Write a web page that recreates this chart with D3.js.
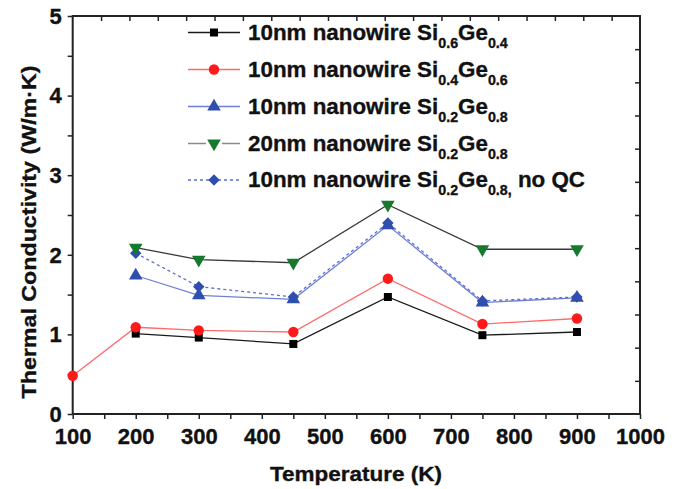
<!DOCTYPE html>
<html>
<head>
<meta charset="utf-8">
<script src="https://cdn.jsdelivr.net/npm/d3@7"></script>
<style>
  html, body { margin: 0; padding: 0; background: #fff; }
  svg { display: block; }
  text { font-family: "Liberation Sans", Arial, sans-serif; font-weight: bold; fill: #111; stroke: #111; stroke-width: 0.35px; }
</style>
</head>
<body>
<svg id="chart" width="681" height="489"></svg>
<script>
// ---- data ----
const temps6 = [200, 300, 450, 600, 750, 900];
const temps7 = [100, 200, 300, 450, 600, 750, 900];
const si06ge04_10nm = [1.01, 0.96, 0.88, 1.47, 0.99, 1.03];
const si04ge06_10nm = [0.48, 1.09, 1.05, 1.03, 1.70, 1.13, 1.20];
const si02ge08_10nm = [1.74, 1.49, 1.44, 2.37, 1.40, 1.46];
const si02ge08_20nm = [2.09, 1.94, 1.90, 2.63, 2.07, 2.07];
const si02ge08_10nm_noQC = [2.02, 1.60, 1.47, 2.40, 1.42, 1.47];
const xTickValues = [100, 200, 300, 400, 500, 600, 700, 800, 900, 1000];
const yTickValues = [0, 1, 2, 3, 4, 5];
const legendLabels = [
  { pre: "10nm nanowire Si", a: "0.6", b: "0.4", post: "" },
  { pre: "10nm nanowire Si", a: "0.4", b: "0.6", post: "" },
  { pre: "10nm nanowire Si", a: "0.2", b: "0.8", post: "" },
  { pre: "20nm nanowire Si", a: "0.2", b: "0.8", post: "" },
  { pre: "10nm nanowire Si", a: "0.2", b: "0.8", post: " no QC" }
];

const series = [
  { x: temps6, y: si06ge04_10nm, line: "#1a1a1a", dash: null, fill: "#000", sym: d3.symbolSquare, size: 64, rot: 0 },
  { x: temps6, y: si02ge08_10nm, line: "#6f80d4", dash: null, fill: "#2f4fae", sym: d3.symbolTriangle, size: 80, rot: 0 },
  { x: temps6, y: si02ge08_10nm_noQC, line: "#5a6fd0", dash: "3,3", fill: "#2f4fae", sym: d3.symbolSquare, size: 66, rot: 45 },
  { x: temps7, y: si04ge06_10nm, line: "#ff6a6a", dash: null, fill: "#ff1a1a", sym: d3.symbolCircle, size: 85, rot: 0 },
  { x: temps6, y: si02ge08_20nm, line: "#3a3a3a", dash: null, fill: "#157a2c", sym: d3.symbolTriangle, size: 80, rot: 180 }
];

// ---- layout ----
const svg = d3.select("#chart");
const L = 72.7, R = 640, T = 16, B = 414;
const x = d3.scaleLinear().domain([100, 1000]).range([L, R]);
const y = d3.scaleLinear().domain([0, 5]).range([B, T]);

// frame
svg.append("rect").attr("x", L).attr("y", T).attr("width", R - L).attr("height", B - T)
  .attr("fill", "none").attr("stroke", "#222").attr("stroke-width", 2);

function styleTickText(sel, fs) {
  sel.attr("font-size", fs).attr("font-family", "Liberation Sans, Arial").attr("font-weight", "bold").attr("fill", "#111");
}

// bottom axis
const gx = svg.append("g").attr("transform", `translate(0,${B})`)
  .call(d3.axisBottom(x).tickValues(d3.range(100, 1001, 50)).tickSize(5).tickPadding(9)
    .tickFormat(d => xTickValues.includes(d) ? d : ""));
gx.select(".domain").remove();
gx.selectAll("line").attr("stroke", "#222").attr("stroke-width", 1.5);
styleTickText(gx.selectAll("text"), 22);

// left axis
const gy = svg.append("g").attr("transform", `translate(${L},0)`)
  .call(d3.axisLeft(y).tickValues(d3.range(0, 5.01, 0.5)).tickSize(5).tickPadding(6)
    .tickFormat(d => yTickValues.includes(d) ? d : ""));
gy.select(".domain").remove();
gy.selectAll("line").attr("stroke", "#222").attr("stroke-width", 1.5);
styleTickText(gy.selectAll("text"), 22);
gy.selectAll("text").attr("dy", "0.33em");

// top axis (inward ticks, 20 intervals)
const xt = d3.scaleLinear().domain([0, 20]).range([L, R]);
const gt = svg.append("g").attr("transform", `translate(0,${T})`)
  .call(d3.axisTop(xt).tickValues(d3.range(1, 20)).tickSize(-5).tickFormat(""));
gt.select(".domain").remove();
gt.selectAll("line").attr("stroke", "#222").attr("stroke-width", 1.5);

// right axis (inward ticks, 12 intervals)
const yr = d3.scaleLinear().domain([0, 12]).range([B, T]);
const gr = svg.append("g").attr("transform", `translate(${R},0)`)
  .call(d3.axisRight(yr).tickValues(d3.range(1, 12)).tickSize(-5).tickFormat(""));
gr.select(".domain").remove();
gr.selectAll("line").attr("stroke", "#222").attr("stroke-width", 1.5);

// axis titles
svg.append("text").attr("x", 356).attr("y", 481).attr("text-anchor", "middle")
  .attr("font-size", 21).attr("textLength", 172).attr("lengthAdjust", "spacingAndGlyphs")
  .text("Temperature (K)");
svg.append("text").attr("transform", "translate(36,232) rotate(-90)").attr("text-anchor", "middle")
  .attr("font-size", 21).attr("textLength", 333).attr("lengthAdjust", "spacingAndGlyphs")
  .text("Thermal Conductivity (W/m·K)");

// lines
const lineGen = d3.line();
series.forEach(s => {
  const pts = s.x.map((t, i) => [x(t), y(s.y[i])]);
  svg.append("path").attr("d", lineGen(pts)).attr("fill", "none")
    .attr("stroke", s.line).attr("stroke-width", 1.3)
    .attr("stroke-dasharray", s.dash);
});
// markers
series.forEach(s => {
  const sym = d3.symbol().type(s.sym).size(s.size);
  svg.append("g").selectAll("path").data(s.x.map((t, i) => [x(t), y(s.y[i])]))
    .join("path").attr("d", sym)
    .attr("transform", d => `translate(${d[0]},${d[1]}) rotate(${s.rot})`)
    .attr("fill", s.fill);
});

// legend
const rowsY = [32.5, 69.5, 106.5, 143.5, 180];
const legendStyle = [series[0], series[3], series[1], series[4], series[2]];
const texts = [];
legendStyle.forEach((s, i) => {
  const cy = rowsY[i];
  const lg = svg.append("g");
  if (i === 3) {
    lg.append("line").attr("x1", 188).attr("x2", 206).attr("y1", cy).attr("y2", cy).attr("stroke", "#888").attr("stroke-width", 1.5);
    lg.append("line").attr("x1", 222).attr("x2", 240).attr("y1", cy).attr("y2", cy).attr("stroke", "#888").attr("stroke-width", 1.5);
  } else {
    lg.append("line").attr("x1", 188).attr("x2", 240).attr("y1", cy).attr("y2", cy)
      .attr("stroke", s.line).attr("stroke-width", 1.3).attr("stroke-dasharray", s.dash);
  }
  lg.append("path").attr("d", d3.symbol().type(s.sym).size(s.size)())
    .attr("transform", `translate(214,${cy}) rotate(${s.rot})`).attr("fill", s.fill);
  const lab = legendLabels[i];
  const t = lg.append("text").attr("x", 248).attr("y", cy + 7.5).attr("font-size", 22);
  t.append("tspan").text(lab.pre);
  t.append("tspan").attr("font-size", 14).attr("dy", 8).text(lab.a);
  t.append("tspan").attr("dy", -8).text("Ge");
  t.append("tspan").attr("font-size", 14).attr("dy", 8).text(lab.b + (lab.post ? "," : ""));
  if (lab.post) t.append("tspan").attr("dy", -8).text(lab.post);
  texts.push(t);
});
// stretch legend text horizontally so first row spans the reference width (248 → 508)
const w0 = texts[0].node().getBBox().width;
const k = 260 / w0;
texts.forEach(t => t.attr("transform", `translate(248,0) scale(${k},1) translate(-248,0)`));
</script>
</body>
</html>
